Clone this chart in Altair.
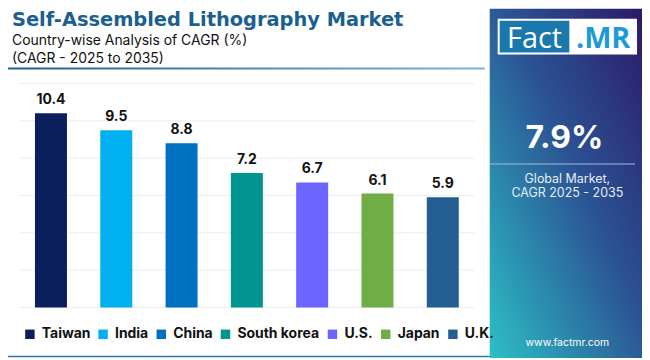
import altair as alt
import pandas as pd

countries = ["Taiwan", "India", "China", "South korea", "U.S.", "Japan", "U.K."]
cagr = [10.4, 9.5, 8.8, 7.2, 6.7, 6.1, 5.9]
colors = ["#0b1f5c", "#00b0f0", "#0070c0", "#00968f", "#6b66ff", "#70ad47", "#255e91"]
grid_vals = [0, 2, 4, 6, 8, 10, 12]

title = "Self-Assembled Lithography Market"
subtitle1 = "Country-wise Analysis of CAGR (%)"
subtitle2 = "(CAGR - 2025 to 2035)"
global_cagr = "7.9%"
global_label1 = "Global Market,"
global_label2 = "CAGR 2025 - 2035"
site = "www.factmr.com"

FONT = "Inter"
W, H = 637, 350

df = pd.DataFrame({"country": countries, "cagr": cagr})
grid_df = pd.DataFrame({"v": grid_vals})
one = pd.DataFrame({"a": [0]})

yscale = alt.Scale(domain=[0, 12], range=[300, 75])
xscale = alt.Scale(range=[12, 468], paddingInner=0.51, paddingOuter=0.23)

base1 = alt.Chart(one)

panel = base1.mark_rect(
    fill=alt.LinearGradient(
        gradient="linear", x1=1, y1=0, x2=0, y2=1,
        stops=[
            alt.GradientStop(offset=0, color="#2c1a68"),
            alt.GradientStop(offset=0.45, color="#2b5394"),
            alt.GradientStop(offset=1, color="#2cc0c6"),
        ],
    )
).encode(x=alt.value(484), x2=alt.value(637), y=alt.value(0), y2=alt.value(352))

sep_line = base1.mark_rect(
    fill=alt.LinearGradient(
        gradient="linear", x1=0, y1=0, x2=1, y2=0,
        stops=[
            alt.GradientStop(offset=0, color="#1b5f8e"),
            alt.GradientStop(offset=1, color="#7fb3d9"),
        ],
    )
).encode(x=alt.value(0), x2=alt.value(479), y=alt.value(59), y2=alt.value(61))

bottom_line = base1.mark_rect(fill="#2a78b0").encode(
    x=alt.value(0), x2=alt.value(484), y=alt.value(348.5), y2=alt.value(350))

grid = alt.Chart(grid_df).mark_rule(color="#ececec", strokeWidth=1).encode(
    y=alt.Y("v:Q", scale=yscale, axis=None),
    x=alt.value(12), x2=alt.value(468),
)

bars = alt.Chart(df).mark_bar().encode(
    x=alt.X("country:N", sort=countries, scale=xscale, axis=None),
    y=alt.Y("cagr:Q", scale=yscale, axis=None),
    color=alt.Color(
        "country:N",
        scale=alt.Scale(domain=countries, range=colors),
        sort=countries,
        legend=alt.Legend(
            title=None, orient="none", legendX=15, legendY=320,
            direction="horizontal", symbolType="square", symbolSize=90,
            symbolStrokeWidth=0, labelFont=FONT, labelFontSize=14,
            labelFontWeight="bold", labelColor="#111111", columnPadding=5.5,
            labelOffset=5, labelLimit=200, padding=0,
        ),
    ),
)

labels = alt.Chart(df).mark_text(
    font=FONT, fontSize=14, fontWeight="bold", color="#111111",
    baseline="alphabetic", dy=-9,
).encode(
    x=alt.X("country:N", sort=countries, scale=xscale, axis=None),
    y=alt.Y("cagr:Q", scale=yscale, axis=None),
    text=alt.Text("cagr:Q", format=".1f"),
)

def txt(s, x, y, size, weight="normal", color="#111111", align="left", font=FONT):
    return base1.mark_text(
        x=x, y=y, fontSize=size, fontWeight=weight, color=color,
        align=align, baseline="alphabetic", font=font,
    ).encode(text=alt.value(s))

title_t = txt(title, 4, 17.5, 19.5, "bold", "#1b5f8e", font="DejaVu Sans")
sub1 = txt(subtitle1, 4, 36, 14)
sub2 = txt(subtitle2, 4, 54, 14)

logo_box = base1.mark_rect(fill="white").encode(
    x=alt.value(492), x2=alt.value(632), y=alt.value(10), y2=alt.value(46))
logo_blue = base1.mark_rect(fill="#1a78ad").encode(
    x=alt.value(494), x2=alt.value(564), y=alt.value(12), y2=alt.value(44))
logo_fact = txt("Fact", 529, 39, 29, "normal", "white", "center", "Open Sans")
logo_mr = txt(".MR", 598, 39, 29, "bold", "#1d9ad6", "center", "Open Sans")

big = txt(global_cagr, 559, 140, 32, "bold", "white", "center")
panel_rule = base1.mark_rect(fill="#a9b9da").encode(
    x=alt.value(484), x2=alt.value(630), y=alt.value(155.5), y2=alt.value(156.5))
gl1 = txt(global_label1, 562, 175, 12.5, "normal", "#e6ecf5", "center")
gl2 = txt(global_label2, 562, 189, 12.5, "normal", "#e6ecf5", "center")
site_t = txt(site, 562, 339, 10.5, "normal", "white", "center")

chart = alt.layer(
    panel, sep_line, bottom_line, grid, bars, labels, title_t, sub1, sub2,
    logo_box, logo_blue, logo_fact, logo_mr, big, panel_rule, gl1, gl2, site_t,
).properties(
    width=W, height=H, autosize=alt.AutoSizeParams(type="none"), padding=0,
    background="white",
).configure_view(stroke=None, clip=False)

chart.save("out.html", embed_options={"renderer": "svg", "actions": False})
